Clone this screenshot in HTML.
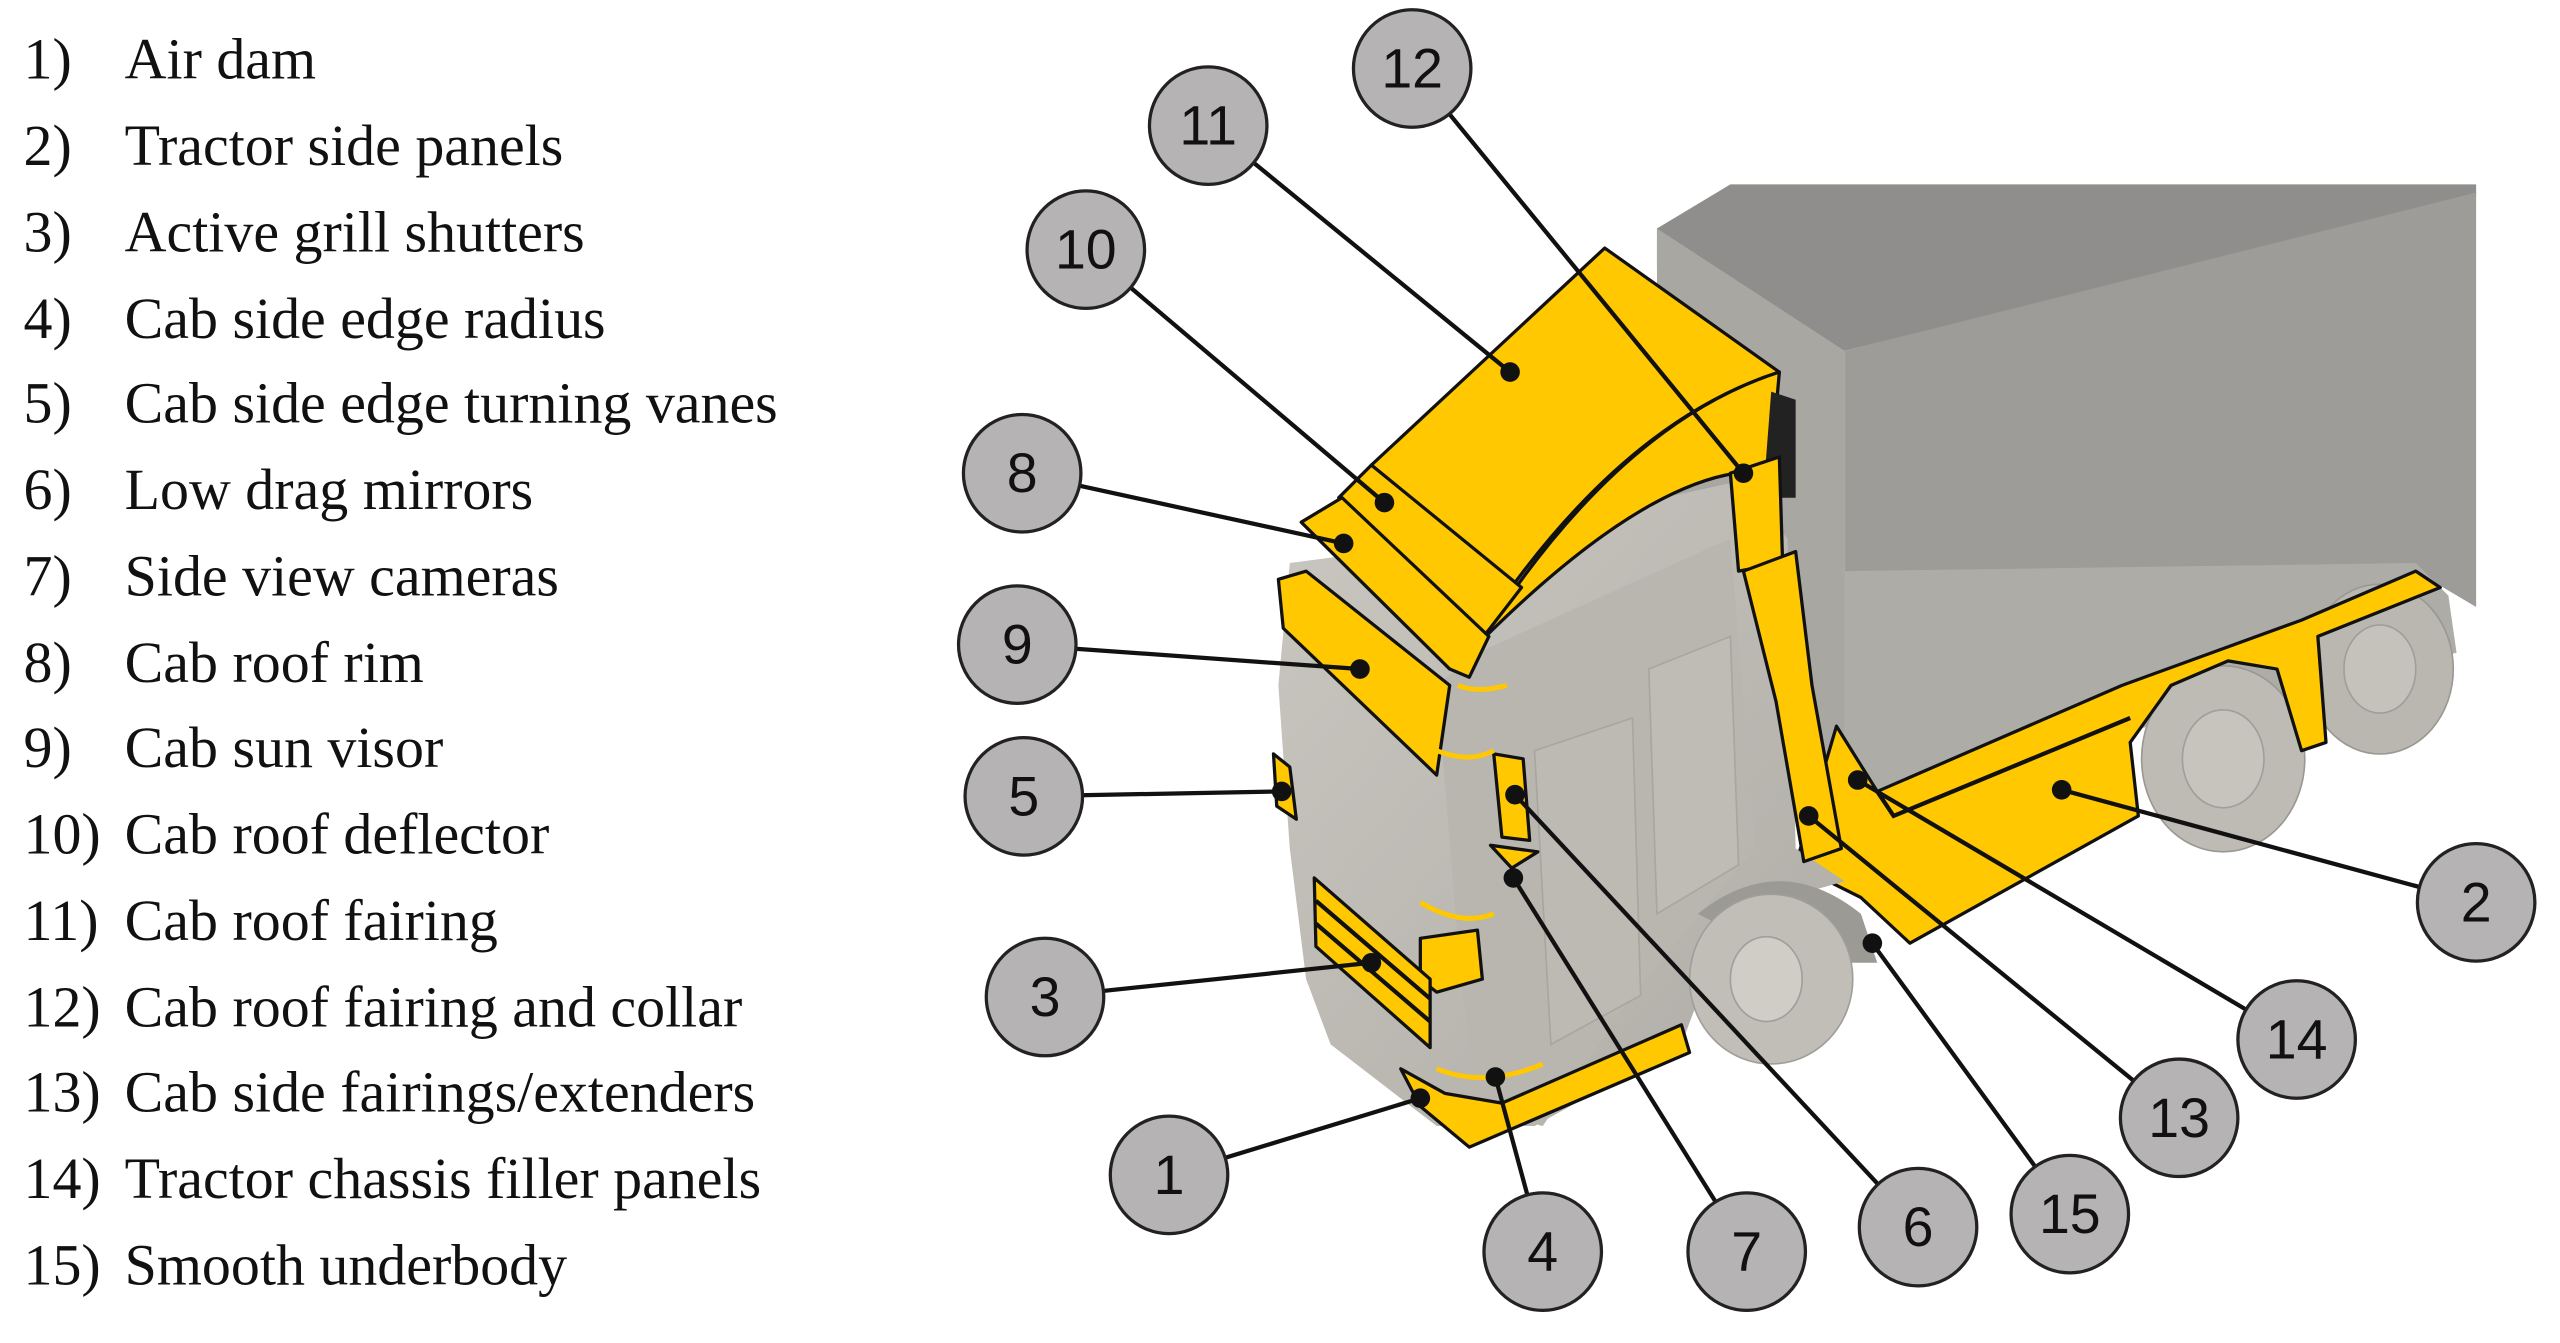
<!DOCTYPE html>
<html><head><meta charset="utf-8"><style>
html,body{margin:0;padding:0;background:#fff;}
svg{display:block}
.t{font-family:"Liberation Serif",serif;font-size:35.5px;fill:#111}
.n{font-family:"Liberation Sans",sans-serif;font-size:34px;fill:#111;text-anchor:middle;dominant-baseline:central}
.y{fill:#ffc800;stroke:#111;stroke-width:2;stroke-linejoin:round}
.l{stroke:#111;stroke-width:2.6;fill:none}
.c{fill:#b5b3b3;stroke:#222;stroke-width:2}
</style></head><body>
<svg width="2560" height="1343" viewBox="0 0 1568 823" xmlns="http://www.w3.org/2000/svg">
<defs>
<linearGradient id="cab" x1="0" y1="0" x2="1" y2="1"><stop offset="0" stop-color="#c9c7c0"/><stop offset="1" stop-color="#aeaca5"/></linearGradient>
</defs>
<g class="t">
<text x="14" y="48">1)</text><text x="76" y="48">Air dam</text>
<text x="14" y="101">2)</text><text x="76" y="101">Tractor side panels</text>
<text x="14" y="154">3)</text><text x="76" y="154">Active grill shutters</text>
<text x="14" y="207">4)</text><text x="76" y="207">Cab side edge radius</text>
<text x="14" y="259">5)</text><text x="76" y="259">Cab side edge turning vanes</text>
<text x="14" y="312">6)</text><text x="76" y="312">Low drag mirrors</text>
<text x="14" y="365">7)</text><text x="76" y="365">Side view cameras</text>
<text x="14" y="418">8)</text><text x="76" y="418">Cab roof rim</text>
<text x="14" y="470">9)</text><text x="76" y="470">Cab sun visor</text>
<text x="14" y="523">10)</text><text x="76" y="523">Cab roof deflector</text>
<text x="14" y="576">11)</text><text x="76" y="576">Cab roof fairing</text>
<text x="14" y="629">12)</text><text x="76" y="629">Cab roof fairing and collar</text>
<text x="14" y="681">13)</text><text x="76" y="681">Cab side fairings/extenders</text>
<text x="14" y="734">14)</text><text x="76" y="734">Tractor chassis filler panels</text>
<text x="14" y="787">15)</text><text x="76" y="787">Smooth underbody</text>
</g>
<polygon points="1015,140 1060,113 1517,113 1517,120 1130,215 1015,165" fill="#8f8e8c"/>
<polygon points="1130,215 1517,118 1517,372 1480,350 1150,485 1130,480" fill="#9d9c99"/>
<polygon points="1015,140 1130,215 1130,480 1015,420" fill="#a9a7a2"/>
<polygon points="1130,350 1480,345 1500,365 1505,400 1150,485 1130,480" fill="#aeaca6"/>
<ellipse cx="1458" cy="410" rx="45" ry="52" fill="#b9b7b0" stroke="#9a9892"/>
<ellipse cx="1458" cy="410" rx="22" ry="27" fill="#c4c2bb" stroke="#a09e98"/>
<ellipse cx="1362" cy="465" rx="50" ry="57" fill="#bdbbb4" stroke="#9a9892"/>
<ellipse cx="1362" cy="465" rx="25" ry="30" fill="#c6c4bd" stroke="#a09e98"/>
<polygon class="y" points="1125,445 1150,485 1300,420 1410,380 1480,350 1495,360 1420,390 1425,455 1410,460 1395,410 1365,405 1330,420 1305,455 1310,500 1170,578 1140,550 1100,530"/>
<polyline class="l" points="1150,485 1160,500 1305,440" stroke-width="1.5"/>
<path d="M790,345 L905,330 L1065,295 L1095,330 L1100,520 L1130,540 L1060,560 L1030,640 L940,690 L880,690 L815,640 L800,600 L790,520 L783,420 Z" fill="url(#cab)"/>
<path d="M880,420 L905,400 L1060,330 L1075,520 L1050,550 L1000,610 L945,690 L905,680 L895,600 Z" fill="#b8b6af"/>
<path d="M940,460 L1000,440 L1005,610 L950,640 Z" fill="#bcbab3" stroke="#a8a69f"/>
<path d="M1010,410 L1060,390 L1065,530 L1015,560 Z" fill="#bebcb5" stroke="#a8a69f"/>
<path d="M1040,560 Q1090,520 1140,560 L1150,590 L1100,590 Z" fill="#9c9a94"/>
<ellipse cx="1085" cy="600" rx="50" ry="52" fill="#c0beb7" stroke="#a09e98"/>
<ellipse cx="1082" cy="600" rx="22" ry="26" fill="#cfcdc6" stroke="#a09e98"/>
<path class="y" d="M840,285 L983,152 L1090,228 Q990,260 905,390 Z"/>
<path class="y" d="M1090,228 L1085,285 L1063,290 Q1000,300 905,395 Q990,260 1090,228 Z"/>
<polygon points="1085,240 1100,245 1100,305 1080,305" fill="#222"/>
<polygon class="y" points="820,305 840,285 932,360 905,395"/>
<polygon class="y" points="797,320 822,305 912,390 900,415 888,410"/>
<polygon class="y" points="1060,290 1090,280 1092,345 1065,350"/>
<polygon class="y" points="1068,350 1100,338 1110,420 1128,520 1105,528 1088,430"/>
<polygon class="y" points="783,355 800,350 888,420 880,475 786,385"/>
<polygon class="y" points="780,462 790,470 794,502 782,494"/>
<polygon class="y" points="915,462 933,465 937,515 920,513"/>
<polygon class="y" points="913,518 942,522 926,532"/>
<polygon class="y" points="870,575 905,570 908,600 880,608 870,600"/>
<polygon class="y" points="805,538 876,600 876,642 806,580"/>
<line x1="806" y1="552" x2="876" y2="612" class="l" stroke-width="1.5"/>
<line x1="806" y1="566" x2="876" y2="626" class="l" stroke-width="1.5"/>
<polygon class="y" points="858,655 870,678 900,703 1035,645 1030,628 920,676 885,670"/>
<g stroke="#ffc800" stroke-width="3" fill="none">
<path d="M893,420 Q905,425 923,420"/><path d="M880,460 Q900,468 915,460"/>
<path d="M870,553 Q895,568 915,560"/><path d="M880,655 Q910,667 945,652"/>
</g>
<g class="l">
<line x1="865" y1="42" x2="1068" y2="290"/><line x1="740" y1="77" x2="925" y2="228"/>
<line x1="665" y1="153" x2="848" y2="308"/><line x1="626" y1="290" x2="823" y2="333"/>
<line x1="623" y1="395" x2="833" y2="410"/><line x1="627" y1="488" x2="785" y2="485"/>
<line x1="640" y1="611" x2="840" y2="590"/><line x1="716" y1="720" x2="870" y2="673"/>
<line x1="945" y1="767" x2="916" y2="660"/><line x1="1070" y1="767" x2="927" y2="538"/>
<line x1="1175" y1="752" x2="928" y2="487"/><line x1="1268" y1="744" x2="1147" y2="578"/>
<line x1="1335" y1="685" x2="1108" y2="500"/><line x1="1407" y1="637" x2="1138" y2="478"/>
<line x1="1517" y1="553" x2="1263" y2="484"/>
</g>
<g fill="#111">
<circle cx="1068" cy="290" r="6"/><circle cx="925" cy="228" r="6"/><circle cx="848" cy="308" r="6"/>
<circle cx="823" cy="333" r="6"/><circle cx="833" cy="410" r="6"/><circle cx="785" cy="485" r="6"/>
<circle cx="840" cy="590" r="6"/><circle cx="870" cy="673" r="6"/><circle cx="916" cy="660" r="6"/>
<circle cx="927" cy="538" r="6"/><circle cx="928" cy="487" r="6"/><circle cx="1147" cy="578" r="6"/>
<circle cx="1108" cy="500" r="6"/><circle cx="1138" cy="478" r="6"/><circle cx="1263" cy="484" r="6"/>
</g>
<g>
<circle class="c" cx="865" cy="42" r="36"/><text class="n" x="865" y="42">12</text>
<circle class="c" cx="740" cy="77" r="36"/><text class="n" x="740" y="77">11</text>
<circle class="c" cx="665" cy="153" r="36"/><text class="n" x="665" y="153">10</text>
<circle class="c" cx="626" cy="290" r="36"/><text class="n" x="626" y="290">8</text>
<circle class="c" cx="623" cy="395" r="36"/><text class="n" x="623" y="395">9</text>
<circle class="c" cx="627" cy="488" r="36"/><text class="n" x="627" y="488">5</text>
<circle class="c" cx="640" cy="611" r="36"/><text class="n" x="640" y="611">3</text>
<circle class="c" cx="716" cy="720" r="36"/><text class="n" x="716" y="720">1</text>
<circle class="c" cx="945" cy="767" r="36"/><text class="n" x="945" y="767">4</text>
<circle class="c" cx="1070" cy="767" r="36"/><text class="n" x="1070" y="767">7</text>
<circle class="c" cx="1175" cy="752" r="36"/><text class="n" x="1175" y="752">6</text>
<circle class="c" cx="1268" cy="744" r="36"/><text class="n" x="1268" y="744">15</text>
<circle class="c" cx="1335" cy="685" r="36"/><text class="n" x="1335" y="685">13</text>
<circle class="c" cx="1407" cy="637" r="36"/><text class="n" x="1407" y="637">14</text>
<circle class="c" cx="1517" cy="553" r="36"/><text class="n" x="1517" y="553">2</text>
</g>
</svg>
</body></html>
